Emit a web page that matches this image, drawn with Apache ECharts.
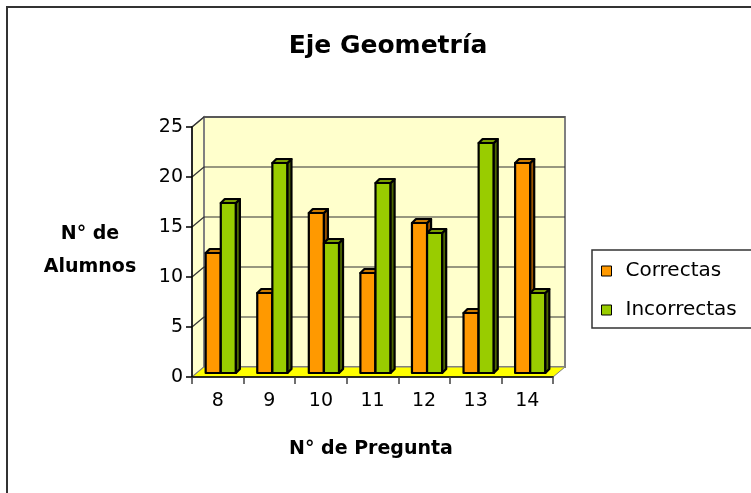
<!DOCTYPE html>
<html><head><meta charset="utf-8">
<script src="https://cdn.jsdelivr.net/npm/echarts@6/dist/echarts.min.js"></script>
<style>html,body{margin:0;padding:0;background:#fff}#c{width:751px;height:493px}</style>
</head><body><div id="c"></div>
<script>
const categories = ['8', '9', '10', '11', '12', '13', '14'];
const correctas = [12, 8, 16, 10, 15, 6, 21];
const incorrectas = [17, 21, 13, 19, 14, 23, 8];
const yTicks = [0, 5, 10, 15, 20, 25];
const seriesNames = ['Correctas', 'Incorrectas'];
const titleText = 'Eje Geometría';
const xTitle = 'N° de Pregunta';
const yTitle = ['N° de', 'Alumnos'];

const FONT = 'DejaVu Sans';
const DX = 12, DY = -10; // wall depth
const BD = 4;            // bar depth

const palette = [
  { front: '#FF9900', side: '#995200', top: '#CC7A00' },
  { front: '#99CC00', side: '#4D6600', top: '#7A9E00' }
];

function wallsRender(params, api) {
  const cs = params.coordSys;
  const x0 = cs.x, y0 = cs.y, w = cs.width, h = cs.height;
  const yb = y0 + h;
  const children = [];
  children.push({ type: 'polygon', shape: { points: [[x0, yb], [x0, y0], [x0 + DX, y0 + DY], [x0 + DX, yb + DY]] },
    style: { fill: '#FFFFCC', stroke: '#808080', lineWidth: 1.5 } });
  children.push({ type: 'rect', shape: { x: x0 + DX, y: y0 + DY, width: w, height: h },
    style: { fill: '#FFFFCC', stroke: '#808080', lineWidth: 2 } });
  yTicks.forEach(function (t) {
    if (t === 0) return;
    const y = api.coord([0, t])[1];
    children.push({ type: 'line', shape: { x1: x0 + DX, y1: y + DY, x2: x0 + DX + w, y2: y + DY },
      style: { stroke: '#333', lineWidth: 1.2 } });
    children.push({ type: 'line', shape: { x1: x0, y1: y, x2: x0 + DX, y2: y + DY },
      style: { stroke: '#333', lineWidth: 1.2 } });
  });
  children.push({ type: 'polygon', shape: { points: [[x0, yb], [x0 + DX, yb + DY], [x0 + DX + w, yb + DY], [x0 + w, yb]] },
    style: { fill: '#FFFF00', stroke: '#808080', lineWidth: 1 } });
  return { type: 'group', children: children };
}

function makeBarRender(slot) {
  const c = palette[slot];
  return function (params, api) {
    const i = api.value(0), v = api.value(1);
    const p0 = api.coord([i, 0]);
    const p1 = api.coord([i, v]);
    const bw = api.size([1, 0])[0];
    const w = bw * 0.293;
    const x0 = p0[0] + 3 - w + slot * w;
    const x1 = x0 + w;
    const yb = p0[1] - 4;
    const yt = p1[1] - 4;
    const st = { stroke: '#000', lineWidth: 2.2, lineJoin: 'round' };
    return { type: 'group', children: [
      { type: 'rect', shape: { x: x0, y: yt, width: w, height: yb - yt }, style: Object.assign({ fill: c.front }, st) },
      { type: 'polygon', shape: { points: [[x1, yb], [x1 + BD, yb - BD], [x1 + BD, yt - BD], [x1, yt]] }, style: Object.assign({ fill: c.side }, st) },
      { type: 'polygon', shape: { points: [[x0, yt], [x0 + BD, yt - BD], [x1 + BD, yt - BD], [x1, yt]] }, style: Object.assign({ fill: c.top }, st) }
    ] };
  };
}

const chart = echarts.init(document.getElementById('c'), null, { renderer: 'canvas' });
chart.setOption({
  animation: false,
  backgroundColor: '#fff',
  textStyle: { fontFamily: FONT },
  grid: { left: 192, top: 127, width: 361, height: 250, containLabel: false },
  xAxis: {
    type: 'category', data: categories, z: 10,
    axisLine: { show: true, lineStyle: { color: '#000', width: 1.5 } },
    axisTick: { show: true, length: 7, lineStyle: { color: '#404040', width: 1.5 } },
    axisLabel: { color: '#000', fontSize: 19, fontFamily: FONT, margin: 15 },
    splitLine: { show: false }
  },
  yAxis: {
    type: 'value', min: 0, max: 25, interval: 5, z: 10,
    axisLine: { show: true, lineStyle: { color: '#000', width: 1.5 } },
    axisTick: { show: true, length: 6, lineStyle: { color: '#000', width: 1.5 } },
    axisLabel: { color: '#000', fontSize: 19, fontFamily: FONT, margin: 9 },
    splitLine: { show: false }
  },
  legend: {
    orient: 'vertical', left: 601, top: 261, padding: 0,
    itemWidth: 10, itemHeight: 10, itemGap: 19,
    icon: 'rect',
    textStyle: { color: '#000', fontSize: 20, fontFamily: FONT, padding: [0, 0, 0, 9] },
    data: [
      { name: seriesNames[0], itemStyle: { color: palette[0].front, borderColor: '#000', borderWidth: 1 } },
      { name: seriesNames[1], itemStyle: { color: palette[1].front, borderColor: '#000', borderWidth: 1 } }
    ]
  },
  graphic: [
    { type: 'rect', z: -10, shape: { x: 7, y: 7, width: 800, height: 600 }, style: { fill: '#fff', stroke: '#333', lineWidth: 2 } },
    { type: 'rect', z: -5, shape: { x: 592, y: 250, width: 200, height: 78 }, style: { fill: '#fff', stroke: '#333', lineWidth: 1.5 } },
    { type: 'text', x: 388, y: 46, style: { text: titleText, fontFamily: FONT, fontWeight: 'bold', fontSize: 25, fill: '#000', textAlign: 'center', textVerticalAlign: 'middle' } },
    { type: 'text', x: 371, y: 449, style: { text: xTitle, fontFamily: FONT, fontWeight: 'bold', fontSize: 19, fill: '#000', textAlign: 'center', textVerticalAlign: 'middle' } },
    { type: 'text', x: 90, y: 234, style: { text: yTitle[0], fontFamily: FONT, fontWeight: 'bold', fontSize: 19, fill: '#000', textAlign: 'center', textVerticalAlign: 'middle' } },
    { type: 'text', x: 90, y: 267, style: { text: yTitle[1], fontFamily: FONT, fontWeight: 'bold', fontSize: 19, fill: '#000', textAlign: 'center', textVerticalAlign: 'middle' } }
  ],
  series: [
    { type: 'custom', name: '_walls', z: 1, silent: true, renderItem: wallsRender, data: [[0, 0]], encode: { x: 0, y: 1 } },
    { type: 'custom', name: seriesNames[0], z: 3, itemStyle: { color: palette[0].front },
      renderItem: makeBarRender(0), encode: { x: 0, y: 1 },
      data: correctas.map(function (v, i) { return [i, v]; }) },
    { type: 'custom', name: seriesNames[1], z: 4, itemStyle: { color: palette[1].front },
      renderItem: makeBarRender(1), encode: { x: 0, y: 1 },
      data: incorrectas.map(function (v, i) { return [i, v]; }) }
  ]
});
</script></body></html>
